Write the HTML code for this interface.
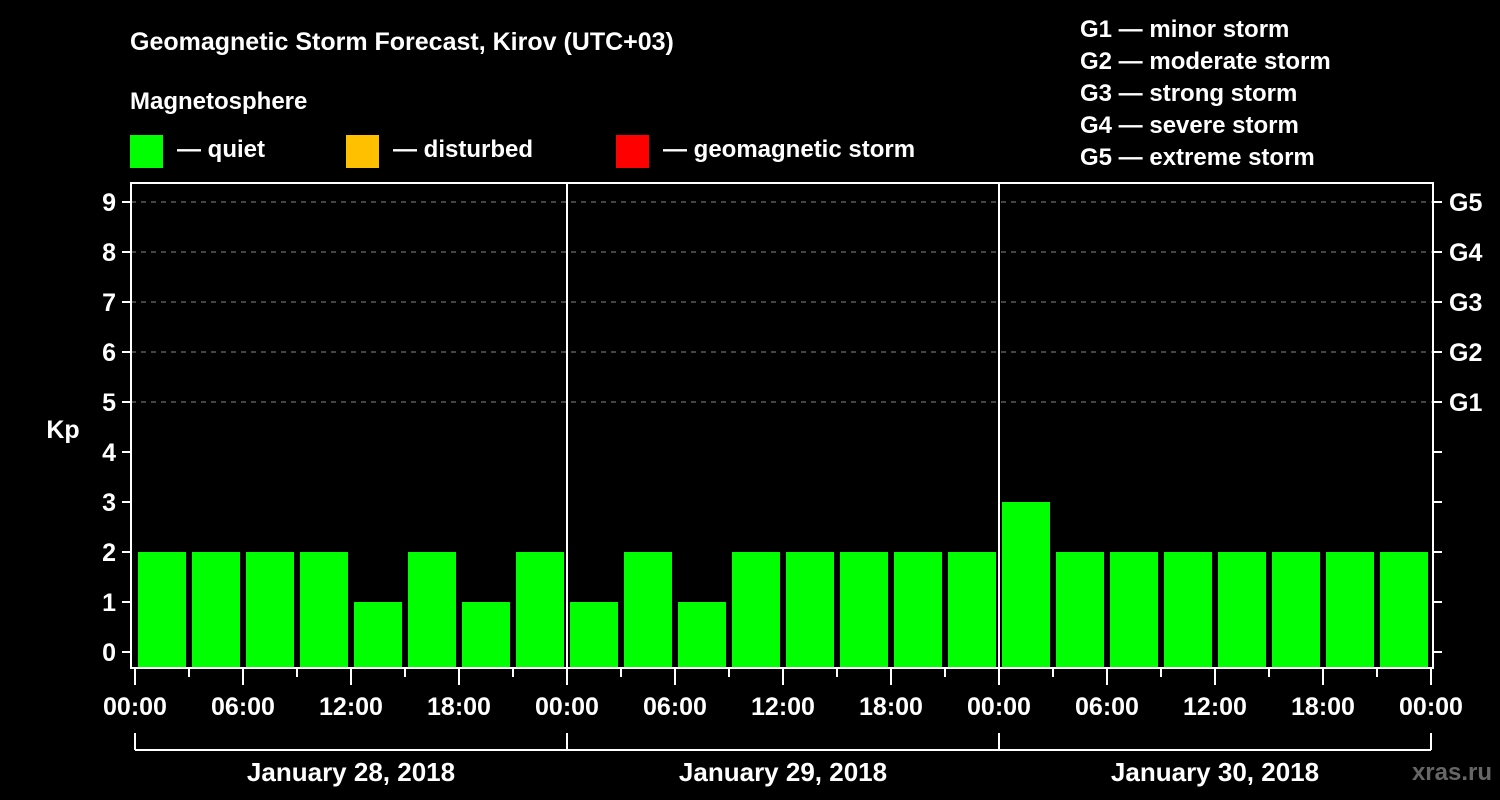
<!DOCTYPE html>
<html><head><meta charset="utf-8"><style>
body{margin:0;background:#000;width:1500px;height:800px;overflow:hidden}
svg{display:block;font-family:"Liberation Sans",Arial,sans-serif;font-weight:bold}
</style></head><body>
<svg id="c" width="1500" height="800">
<rect width="1500" height="800" fill="#000"/>
<text x="130" y="50" fill="#fff" font-size="25">Geomagnetic Storm Forecast, Kirov (UTC+03)</text>
<text x="130" y="109" fill="#fff" font-size="24">Magnetosphere</text>
<g><rect x="130" y="135" width="33" height="33" fill="#00ff00"/><text x="177" y="157" fill="#fff" font-size="24">— quiet</text></g>
<g><rect x="346" y="135" width="33" height="33" fill="#ffc000"/><text x="393" y="157" fill="#fff" font-size="24">— disturbed</text></g>
<g><rect x="616" y="135" width="33" height="33" fill="#ff0000"/><text x="663" y="157" fill="#fff" font-size="24">— geomagnetic storm</text></g>
<g fill="#fff" font-size="24">
<text x="1080" y="37">G1 — minor storm</text>
<text x="1080" y="69">G2 — moderate storm</text>
<text x="1080" y="101">G3 — strong storm</text>
<text x="1080" y="133">G4 — severe storm</text>
<text x="1080" y="165">G5 — extreme storm</text>
</g>
<text x="63" y="438" fill="#fff" font-size="25" text-anchor="middle">Kp</text>
<text x="1492" y="780" fill="#666" font-size="24" text-anchor="end">xras.ru</text>
<g id="plot"></g>
</svg>
<script>
const kpValues=[2,2,2,2,1,2,1,2, 1,2,1,2,2,2,2,2, 3,2,2,2,2,2,2,2];
const dayLabels=["January 28, 2018","January 29, 2018","January 30, 2018"];
const timeLabels=["00:00","06:00","12:00","18:00"];
const yTicks=[0,1,2,3,4,5,6,7,8,9];
const gLabels=["G1","G2","G3","G4","G5"];
const gLevels=[5,6,7,8,9];
const NS="http://www.w3.org/2000/svg";
const L=131,R=1433,T=183,B=668;
const x0=135,pxPerHour=18;
const xs=h=>x0+h*pxPerHour;
const ys=v=>652-v*50;
const g=document.getElementById('plot');
function mk(t,a,p){const e=document.createElementNS(NS,t);for(const k in a)e.setAttribute(k,a[k]);(p||g).appendChild(e);return e;}
// grid
gLevels.forEach(v=>{
 const l=mk('line',{x1:L,x2:R,y1:ys(v),y2:ys(v),stroke:'#888','stroke-dasharray':'5,5','stroke-width':1});
 
 
});
// bars
kpValues.forEach((v,i)=>{
 const c=v>=5?'#ff0000':(v>=4?'#ffc000':'#00ff00');
 const r=mk('rect',{x:xs(i*3)+3,y:ys(v),width:48,height:B-ys(v),fill:c});
 
 
});
// day separators
for(let d=1;d<dayLabels.length;d++){
 const l=mk('line',{x1:xs(d*24),x2:xs(d*24),y1:T,y2:B,stroke:'#fff','stroke-width':2});
 
 
}
// frame
const f=mk('rect',{x:L,y:T,width:R-L,height:B-T,fill:'none',stroke:'#fff','stroke-width':2});


// y ticks
yTicks.forEach(v=>{
 const y=ys(v);
 mk('line',{x1:122,x2:L,y1:y,y2:y,stroke:'#fff','stroke-width':2});
 mk('line',{x1:R,x2:R+9,y1:y,y2:y,stroke:'#fff','stroke-width':2});
 const t=mk('text',{x:116,y:y+9,fill:'#fff','font-size':25,'text-anchor':'end'});
 t.textContent=v;
 
 
});
gLevels.forEach((v,i)=>{
 const t=mk('text',{x:1449,y:ys(v)+9,fill:'#fff','font-size':25});
 t.textContent=gLabels[i];
 
 
});
// x ticks
const totalH=dayLabels.length*24;
for(let h=0;h<=totalH;h+=3){
 const major=h%6===0;
 mk('line',{x1:xs(h),x2:xs(h),y1:B,y2:major?685:677,stroke:'#fff','stroke-width':2});
 if(major&&h%6===0&&(h%24)%6===0){
  const idx=(h%24)/6;
  const t=mk('text',{x:xs(h),y:715,fill:'#fff','font-size':25,'text-anchor':'middle'});
  t.textContent=timeLabels[idx];
  
  
 }
}
// day brackets
mk('line',{x1:xs(0),x2:xs(totalH),y1:750,y2:750,stroke:'#fff','stroke-width':2});
for(let d=0;d<=dayLabels.length;d++){
 mk('line',{x1:xs(d*24),x2:xs(d*24),y1:733,y2:750,stroke:'#fff','stroke-width':2});
}
dayLabels.forEach((s,d)=>{
 const t=mk('text',{x:xs(d*24+12),y:781,fill:'#fff','font-size':26,'text-anchor':'middle'});
 t.textContent=s;
 
 
});
</script>
</body></html>
